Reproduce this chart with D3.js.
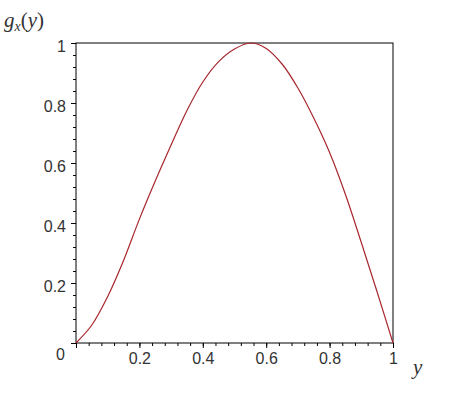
<!DOCTYPE html>
<html>
<head>
<meta charset="utf-8">
<script src="https://cdn.jsdelivr.net/npm/d3@7"></script>
<style>
  body { margin: 0; background: #fff; }
  .tick text { font-family: Arial, "Liberation Sans", sans-serif; font-size: 16px; fill: #333; }
  .axis path, .axis line { stroke: #000; }
</style>
</head>
<body>
<svg id="chart"></svg>
<script>
// curve values
const yPos = [0, 0.05, 0.1, 0.15, 0.2, 0.25, 0.3, 0.35, 0.4, 0.45, 0.5, 0.55, 0.6, 0.65, 0.7, 0.75, 0.8, 0.85, 0.9, 0.95, 1];
const gVal = [0, 0.06, 0.155, 0.275, 0.413, 0.54, 0.66, 0.775, 0.87, 0.938, 0.98, 1.0, 0.982, 0.93, 0.85, 0.75, 0.635, 0.495, 0.335, 0.17, 0];

const majorTicks = [0, 0.2, 0.4, 0.6, 0.8, 1];
const minorTicks = d3.range(0, 26).map(i => i * 0.04).filter(v => v <= 1.0001);
const xLabels = [0.2, 0.4, 0.6, 0.8, 1];
const yLabels = [0, 0.2, 0.4, 0.6, 0.8, 1];

const width = 473, height = 414;
const margin = {top: 43, right: 80, bottom: 71, left: 76};
const w = width - margin.left - margin.right;
const h = height - margin.top - margin.bottom;

const svg = d3.select('#chart').attr('width', width).attr('height', height);
const chart = svg.append('g').attr('transform', `translate(${margin.left},${margin.top})`);

const x = d3.scaleLinear().domain([0, 1]).range([0, w]);
const y = d3.scaleLinear().domain([0, 1]).range([h, 0]);

const fmt = d => d === 0 ? '0' : d === 1 ? '1' : d3.format('.1f')(d);

// minor ticks
chart.append('g').attr('class', 'axis')
    .attr('transform', `translate(0,${h})`)
    .call(d3.axisBottom(x).tickValues(minorTicks).tickSize(3).tickFormat(''))
    .call(g => g.select('.domain').remove());
chart.append('g').attr('class', 'axis')
    .call(d3.axisLeft(y).tickValues(minorTicks).tickSize(3).tickFormat(''))
    .call(g => g.select('.domain').remove());

// major ticks with labels
chart.append('g').attr('class', 'axis')
    .attr('transform', `translate(0,${h})`)
    .call(d3.axisBottom(x).tickValues(majorTicks).tickSize(5).tickSizeOuter(0).tickPadding(5)
      .tickFormat(d => xLabels.includes(d) ? fmt(d) : ''))
    .call(g => g.select('.domain').remove());
chart.append('g').attr('class', 'axis')
    .call(d3.axisLeft(y).tickValues(yLabels).tickSize(5).tickSizeOuter(0).tickPadding(5).tickFormat(fmt))
    .call(g => g.select('.domain').remove())
    .call(g => g.selectAll('text').attr('dy', '0.55em'))
    .call(g => g.selectAll('.tick').filter(d => d === 0).select('text')
      .attr('x', -11).attr('dy', '1.0em'));

// frame
chart.append('rect')
    .attr('width', w).attr('height', h)
    .attr('fill', 'none').attr('stroke', '#000').attr('stroke-width', 1);

// curve
const line = d3.line()
    .x((d, i) => x(yPos[i]))
    .y(d => y(d))
    .curve(d3.curveCatmullRom);

chart.append('path')
    .datum(gVal)
    .attr('fill', 'none')
    .attr('stroke', '#a8262c')
    .attr('stroke-width', 1.2)
    .attr('d', line);

// axis titles
const title = svg.append('text')
    .attr('x', 4).attr('y', 27)
    .attr('font-family', '"Liberation Serif", "Times New Roman", serif')
    .attr('font-style', 'italic').attr('font-size', 21).attr('fill', '#333');
title.append('tspan').text('g');
title.append('tspan').attr('font-size', 14).attr('dy', 4).text('x');
title.append('tspan').attr('dy', -4).attr('font-style', 'normal').text('(');
title.append('tspan').text('y');
title.append('tspan').attr('font-style', 'normal').text(')');

svg.append('text')
    .attr('x', 413).attr('y', 374)
    .attr('font-family', '"Liberation Serif", "Times New Roman", serif')
    .attr('font-style', 'italic').attr('font-size', 21).attr('fill', '#333')
    .text('y');
</script>
</body>
</html>
